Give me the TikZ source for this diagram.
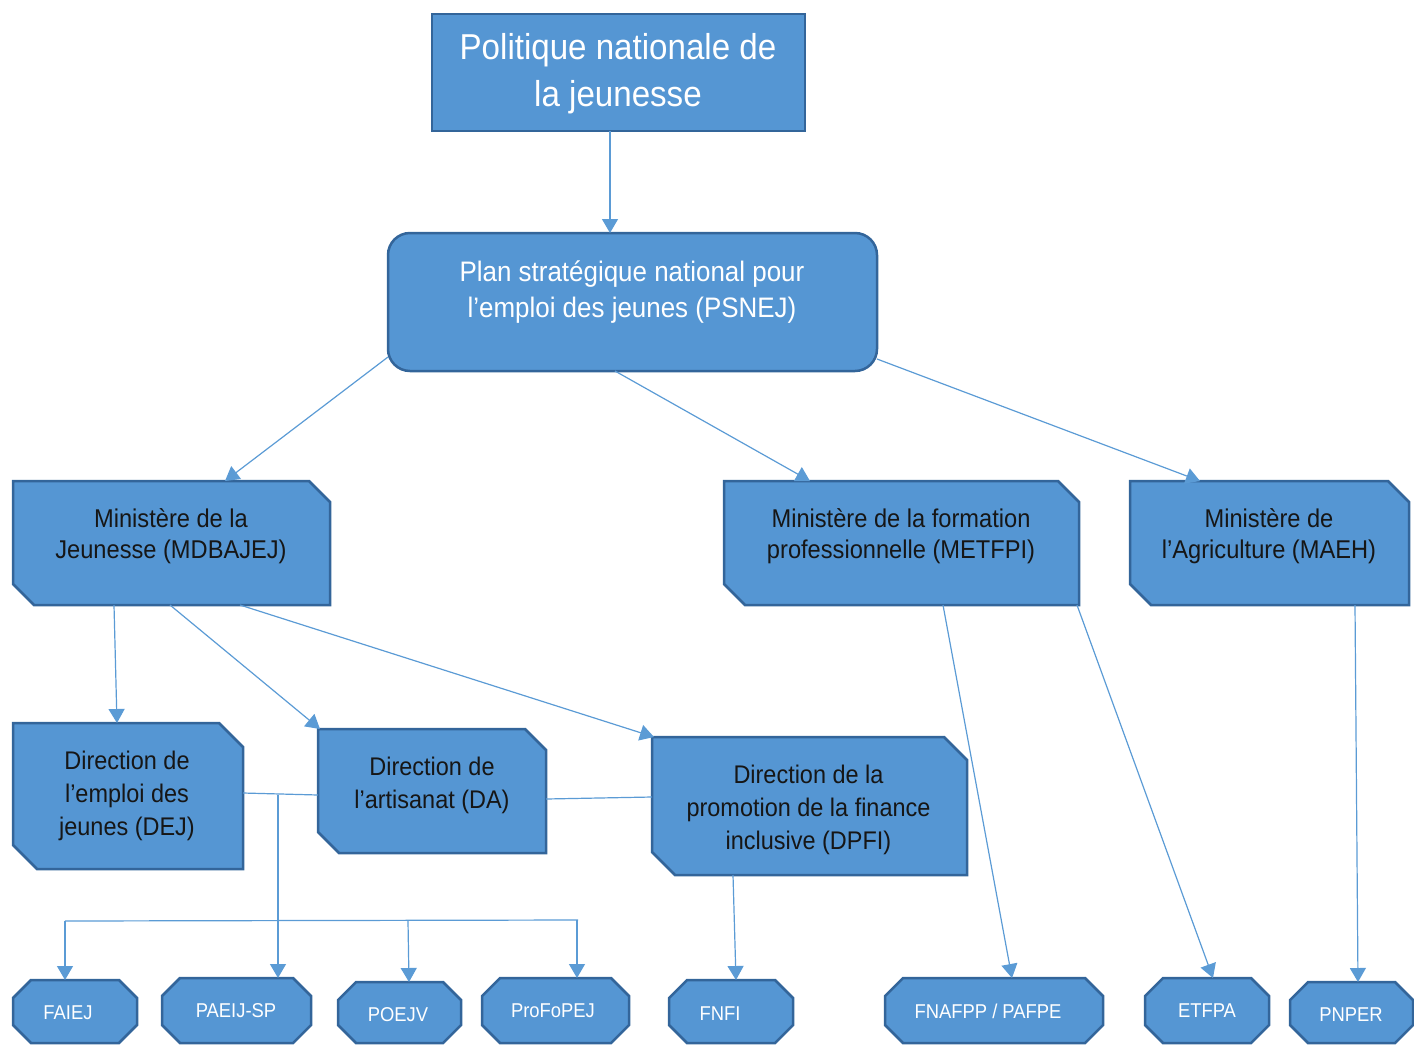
\documentclass[tikz,border=0pt]{standalone}
\usepackage{fontspec}
\setmainfont{Liberation Sans}[FakeStretch=0.92]
\usetikzlibrary{arrows.meta}
\definecolor{boxfill}{HTML}{5596D3}
\definecolor{boxline}{HTML}{33659A}
\definecolor{connclr}{HTML}{5B9BD5}
\definecolor{darktext}{HTML}{161616}
\newcommand\snipshape[2]{%
  \draw[shp] (#1.north west) -- ([xshift=-#2pt]#1.north east) -- ([yshift=-#2pt]#1.north east)
    -- (#1.south east) -- ([xshift=#2pt]#1.south west) -- ([yshift=#2pt]#1.south west) -- cycle;}
\newcommand\octshape[2]{%
  \draw[shp] ([xshift=#2pt]#1.north west) -- ([xshift=-#2pt]#1.north east) -- ([yshift=-#2pt]#1.north east)
    -- ([yshift=#2pt]#1.south east) -- ([xshift=-#2pt]#1.south east) -- ([xshift=#2pt]#1.south west)
    -- ([yshift=#2pt]#1.south west) -- ([yshift=-#2pt]#1.north west) -- cycle;}
\begin{document}
\begin{tikzpicture}[x=1pt,y=-1pt,
  frame/.style={draw=none,inner sep=0pt,outer sep=0pt},
  shp/.style={fill=boxfill,draw=boxline,line width=2.5pt,line join=miter},
  wt/.style={text=white,align=center,inner sep=0pt},
  dt/.style={text=darktext,align=center,inner sep=0pt},
  titlefont/.style={font=\fontsize{36}{47}\selectfont},
  planfont/.style={font=\fontsize{28.2}{36.5}\selectfont},
  minfont/.style={font=\fontsize{25.7}{31.5}\selectfont},
  dirfont/.style={font=\fontsize{25.5}{33}\selectfont},
  octfont/.style={font=\fontsize{20}{24}\selectfont},
  conn/.style={draw=connclr,line width=1.2pt},
  arr/.style={conn,-{Triangle[width=16pt,length=14pt]}}]
\path[use as bounding box] (0,0) rectangle (1414,1045);

% frames (named nodes)
\node[frame,minimum width=373pt,minimum height=117pt] (pol) at (618.5,72.5) {};
\node[frame,minimum width=489pt,minimum height=138pt] (psnej) at (632.5,302) {};
\node[frame,minimum width=317pt,minimum height=124pt] (mj) at (171.5,543) {};
\node[frame,minimum width=355pt,minimum height=124pt] (mf) at (901.5,543) {};
\node[frame,minimum width=279pt,minimum height=124pt] (ma) at (1269.5,543) {};
\node[frame,minimum width=230pt,minimum height=146pt] (dej) at (128,796) {};
\node[frame,minimum width=228pt,minimum height=124pt] (da) at (432,791) {};
\node[frame,minimum width=315pt,minimum height=138pt] (dpfi) at (809.5,806) {};
\node[frame,minimum width=124pt,minimum height=63pt] (faiej) at (75,1011.5) {};
\node[frame,minimum width=149pt,minimum height=65pt] (paeij) at (236.5,1010.5) {};
\node[frame,minimum width=123pt,minimum height=61pt] (poejv) at (399.5,1012.5) {};
\node[frame,minimum width=147pt,minimum height=65pt] (profo) at (555.5,1010.5) {};
\node[frame,minimum width=124pt,minimum height=63pt] (fnfi) at (731,1011.5) {};
\node[frame,minimum width=218pt,minimum height=65pt] (fnafpp) at (994,1010.5) {};
\node[frame,minimum width=124pt,minimum height=65pt] (etfpa) at (1207,1010.5) {};
\node[frame,minimum width=123pt,minimum height=61pt] (pnper) at (1351.5,1012.5) {};

% shapes
\draw[shp] (pol.north west) rectangle (pol.south east);
\draw[shp,rounded corners=22pt] (psnej.north west) rectangle (psnej.south east);
\snipshape{mj}{21}
\snipshape{mf}{21}
\snipshape{ma}{21}
\snipshape{dej}{24}
\snipshape{da}{21}
\snipshape{dpfi}{23}
\octshape{faiej}{18}
\octshape{paeij}{18}
\octshape{poejv}{18}
\octshape{profo}{18}
\octshape{fnfi}{18}
\octshape{fnafpp}{18}
\octshape{etfpa}{18}
\octshape{pnper}{18}

% texts
\node[wt,titlefont] (pol-t) at (618,74) {Politique nationale de\\la jeunesse};
\node[wt,planfont] (psnej-t) at (632,292) {Plan stratégique national pour\\l’emploi des jeunes (PSNEJ)};
\node[dt,minfont] (mj-t) at (171,536) {Ministère de la\\Jeunesse (MDBAJEJ)};
\node[dt,minfont] (mf-t) at (901,536) {Ministère de la formation\\professionnelle (METFPI)};
\node[dt,minfont] (ma-t) at (1269,536) {Ministère de\\l’Agriculture (MAEH)};
\node[dt,dirfont] (dej-t) at (127,796) {Direction de\\l’emploi des\\jeunes (DEJ)};
\node[dt,dirfont] (da-t) at (432,785) {Direction de\\l’artisanat (DA)};
\node[dt,dirfont] (dpfi-t) at (808.5,809.5) {Direction de la\\promotion de la finance\\inclusive (DPFI)};
\node[wt,octfont] (faiej-t) at (68,1012.5) {FAIEJ};
\node[wt,octfont] (paeij-t) at (236,1010.5) {PAEIJ-SP};
\node[wt,octfont] (poejv-t) at (398,1015) {POEJV};
\node[wt,octfont] (profo-t) at (553,1011) {ProFoPEJ};
\node[wt,octfont] (fnfi-t) at (720,1014) {FNFI};
\node[wt,octfont] (fnafpp-t) at (988,1011.5) {FNAFPP / PAFPE};
\node[wt,octfont] (etfpa-t) at (1207,1011) {ETFPA};
\node[wt,octfont] (pnper-t) at (1351,1015) {PNPER};

% junction coordinates
\coordinate (j1) at (278,795);
\coordinate (jb) at (278,921);
\coordinate (busL) at (65,921);
\coordinate (busR) at (578,920);
\coordinate (b3) at (408,921);
\coordinate (b4) at (577,920);

% connectors
\draw[arr] ([xshift=178pt]pol.south west) -- ([xshift=222pt]psnej.north west);
\draw[arr] ([yshift=14pt]psnej.south west) -- ([xshift=212pt]mj.north west);
\draw[arr] ([xshift=227pt]psnej.south west) -- ([xshift=86pt]mf.north west);
\draw[arr] ([yshift=12pt]psnej.south east) -- ([xshift=70pt]ma.north west);
\draw[arr] ([xshift=101pt]mj.south west) -- ([xshift=104pt]dej.north west);
\draw[arr] ([xshift=157pt]mj.south west) -- ([xshift=2pt]da.north west);
\draw[arr] ([xshift=227pt]mj.south west) -- ([xshift=2pt]dpfi.north west);
\draw[arr] ([xshift=219pt]mf.south west) -- ([xshift=127pt]fnafpp.north west);
\draw[arr] ([xshift=-2pt]mf.south east) -- ([xshift=68pt]etfpa.north west);
\draw[arr] ([xshift=225pt]ma.south west) -- ([xshift=68pt]pnper.north west);
\draw[arr] ([xshift=81pt]dpfi.south west) -- ([xshift=67pt]fnfi.north west);
\draw[conn] ([yshift=3pt]dej.east) -- ([yshift=-4pt]da.west);
\draw[conn] ([yshift=-8pt]da.east) -- ([yshift=9pt]dpfi.west);
\draw[conn] (j1) -- (jb);
\draw[conn] (busL) -- (busR);
\draw[arr] (jb) -- ([xshift=116pt]paeij.north west);
\draw[arr] (busL) -- ([xshift=52pt]faiej.north west);
\draw[arr] (b3) -- ([xshift=71pt]poejv.north west);
\draw[arr] (b4) -- ([xshift=95pt]profo.north west);
\end{tikzpicture}
\end{document}
